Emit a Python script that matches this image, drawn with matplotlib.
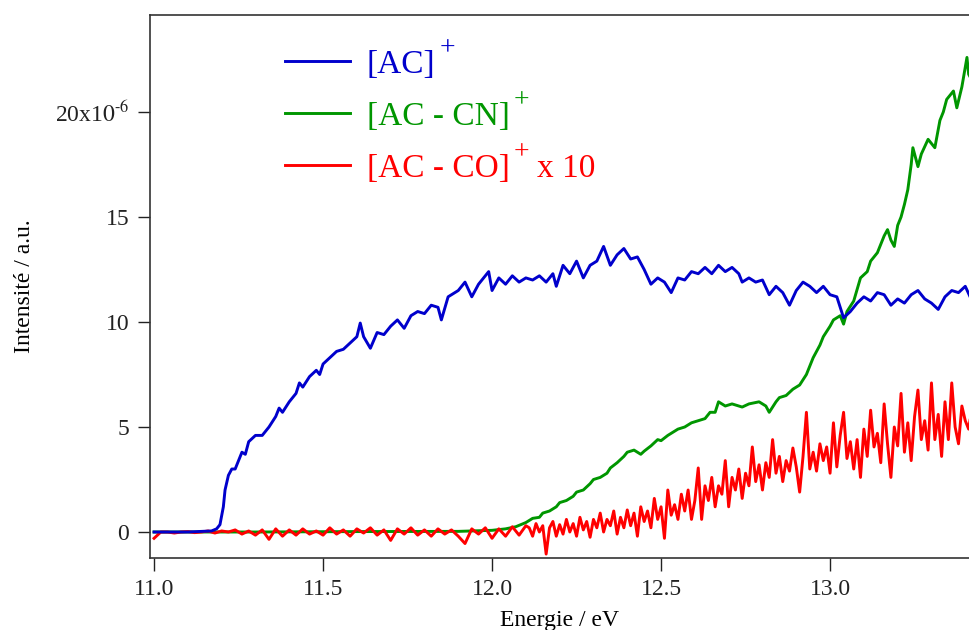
import matplotlib
matplotlib.use('Agg')
import matplotlib.pyplot as plt

plt.rcParams['font.family'] = ['Liberation Serif', 'DejaVu Serif']
plt.rcParams['mathtext.fontset'] = 'stix'

# [AC]+  (energie eV, intensite x1e-6)
ac_x = [11.00, 11.10, 11.17, 11.185, 11.195, 11.205, 11.21, 11.22, 11.23, 11.24,
        11.25, 11.26, 11.27, 11.28, 11.30, 11.32, 11.34, 11.36, 11.37, 11.38,
        11.40, 11.42, 11.43, 11.44, 11.46, 11.48, 11.49, 11.50, 11.52, 11.54,
        11.56, 11.58, 11.60, 11.61, 11.62, 11.64, 11.66, 11.68, 11.70, 11.72,
        11.74, 11.76, 11.78, 11.80, 11.82, 11.84, 11.85, 11.87, 11.90, 11.92,
        11.94, 11.96, 11.99, 12.00, 12.02, 12.04, 12.06, 12.08, 12.10, 12.12,
        12.14, 12.16, 12.18, 12.19, 12.21, 12.23, 12.25, 12.27, 12.29, 12.31,
        12.33, 12.35, 12.37, 12.39, 12.41, 12.43, 12.45, 12.47, 12.49, 12.51,
        12.53, 12.55, 12.57, 12.59, 12.61, 12.63, 12.65, 12.67, 12.69, 12.71,
        12.73, 12.74, 12.76, 12.78, 12.80, 12.82, 12.84, 12.86, 12.88, 12.90,
        12.92, 12.94, 12.96, 12.98, 13.00, 13.02, 13.04, 13.06, 13.08, 13.10,
        13.12, 13.14, 13.16, 13.18, 13.20, 13.22, 13.24, 13.26, 13.28, 13.30,
        13.32, 13.34, 13.36, 13.38, 13.40, 13.42]
ac_y = [0.0, 0.0, 0.05, 0.15, 0.35, 1.2, 2.0, 2.7, 3.0, 3.0,
        3.4, 3.8, 3.7, 4.3, 4.6, 4.6, 5.0, 5.5, 5.9, 5.7,
        6.2, 6.6, 7.1, 6.9, 7.4, 7.7, 7.5, 8.0, 8.3, 8.6,
        8.7, 9.0, 9.3, 9.95, 9.3, 8.75, 9.5, 9.4, 9.8, 10.1,
        9.7, 10.3, 10.5, 10.4, 10.8, 10.7, 10.1, 11.2, 11.5, 11.9,
        11.2, 11.8, 12.4, 11.5, 12.1, 11.8, 12.2, 11.9, 12.1, 12.0,
        12.2, 11.9, 12.3, 11.7, 12.7, 12.3, 12.9, 12.1, 12.7, 12.9,
        13.6, 12.7, 13.2, 13.5, 13.0, 13.1, 12.5, 11.8, 12.1, 11.9,
        11.4, 12.1, 12.0, 12.4, 12.3, 12.6, 12.3, 12.7, 12.4, 12.6,
        12.3, 11.9, 12.1, 11.9, 12.0, 11.3, 11.7, 11.4, 10.8, 11.5,
        11.9, 11.7, 11.4, 11.7, 11.3, 11.2, 10.2, 10.5, 10.9, 11.2,
        11.0, 11.4, 11.3, 10.8, 11.1, 10.9, 11.3, 11.5, 11.1, 10.9,
        10.6, 11.2, 11.5, 11.4, 11.7, 11.0]

# [AC - CN]+
cn_x = [11.00, 11.30, 11.60, 11.90, 12.00, 12.04, 12.07, 12.10, 12.12, 12.14,
        12.15, 12.17, 12.19, 12.20, 12.22, 12.24, 12.25, 12.27, 12.29, 12.30,
        12.32, 12.34, 12.35, 12.37, 12.39, 12.40, 12.42, 12.44, 12.45, 12.47,
        12.49, 12.50, 12.52, 12.54, 12.55, 12.57, 12.59, 12.61, 12.63, 12.645,
        12.66, 12.67, 12.69, 12.71, 12.74, 12.76, 12.79, 12.81, 12.82, 12.84,
        12.85, 12.87, 12.89, 12.91, 12.93, 12.95, 12.97, 12.98, 13.00, 13.01,
        13.03, 13.04, 13.05, 13.07, 13.09, 13.11, 13.12, 13.14, 13.16, 13.17,
        13.18, 13.19, 13.20, 13.21, 13.22, 13.23, 13.24, 13.245, 13.26, 13.27,
        13.29, 13.30, 13.31, 13.325, 13.335, 13.345, 13.355, 13.365, 13.375, 13.39,
        13.405, 13.41, 13.42]
cn_y = [0.0, 0.0, 0.02, 0.03, 0.08, 0.15, 0.25, 0.45, 0.65, 0.7,
        0.9, 1.0, 1.2, 1.4, 1.5, 1.7, 1.9, 2.0, 2.3, 2.5,
        2.6, 2.8, 3.05, 3.3, 3.6, 3.8, 3.9, 3.7, 3.85, 4.1,
        4.4, 4.35, 4.6, 4.8, 4.9, 5.0, 5.2, 5.3, 5.4, 5.7,
        5.7, 6.2, 6.0, 6.1, 5.95, 6.1, 6.2, 6.0, 5.7, 6.2,
        6.4, 6.5, 6.8, 7.0, 7.5, 8.3, 8.9, 9.3, 9.8, 10.1,
        10.3, 9.9, 10.5, 11.0, 12.1, 12.4, 12.9, 13.3, 14.1, 14.4,
        13.9, 13.6, 14.6, 15.0, 15.6, 16.3, 17.5, 18.3, 17.4, 18.0,
        18.7, 18.5, 18.3, 19.6, 20.0, 20.6, 20.8, 21.0, 20.2, 21.2,
        22.6, 21.8, 21.5]

# [AC - CO]+ x 10
co_x = [11.00, 11.02, 11.04, 11.06, 11.08, 11.10, 11.12, 11.14, 11.16, 11.18,
        11.20, 11.22, 11.24, 11.26, 11.28, 11.30, 11.32, 11.34, 11.36, 11.38,
        11.40, 11.42, 11.44, 11.46, 11.48, 11.50, 11.52, 11.54, 11.56, 11.58,
        11.60, 11.62, 11.64, 11.66, 11.68, 11.70, 11.72, 11.74, 11.76, 11.78,
        11.80, 11.82, 11.84, 11.86, 11.88, 11.90, 11.92, 11.94, 11.96, 11.98,
        12.00, 12.02, 12.04, 12.06, 12.08, 12.10,
        12.11, 12.12, 12.13, 12.14, 12.15, 12.16, 12.17, 12.18, 12.19, 12.20,
        12.21, 12.22, 12.23, 12.24, 12.25, 12.26, 12.27, 12.28, 12.29, 12.30,
        12.31, 12.32, 12.33, 12.34, 12.35, 12.36, 12.37, 12.38, 12.39, 12.40,
        12.41, 12.42, 12.43, 12.44, 12.45, 12.46, 12.47, 12.48, 12.49, 12.50,
        12.51, 12.52, 12.53, 12.54, 12.55, 12.56, 12.57, 12.58, 12.59, 12.60,
        12.61, 12.62, 12.63, 12.64, 12.65, 12.66, 12.67, 12.68, 12.69, 12.70,
        12.71, 12.72, 12.73, 12.74, 12.75, 12.76, 12.77, 12.78, 12.79, 12.80,
        12.81, 12.82, 12.83, 12.84, 12.85, 12.86, 12.87, 12.88, 12.89, 12.90,
        12.91, 12.92, 12.93, 12.94, 12.95, 12.96, 12.97, 12.98, 12.99, 13.00,
        13.01, 13.02, 13.03, 13.04, 13.05, 13.06, 13.07, 13.08, 13.09, 13.10,
        13.11, 13.12, 13.13, 13.14, 13.15, 13.16, 13.17, 13.18, 13.19, 13.20,
        13.21, 13.22, 13.23, 13.24, 13.25, 13.26, 13.27, 13.28, 13.29, 13.30,
        13.31, 13.32, 13.33, 13.34, 13.35, 13.36, 13.37, 13.38, 13.39, 13.40,
        13.41, 13.42]
co_y = [-0.3, 0.0, 0.0, -0.05, 0.0, 0.02, -0.03, 0.0, 0.05, -0.05,
        0.05, 0.0, 0.1, -0.1, 0.05, -0.15, 0.1, -0.35, 0.15, -0.2,
        0.1, -0.15, 0.15, -0.1, 0.05, -0.15, 0.2, -0.1, 0.1, -0.2,
        0.15, -0.05, 0.2, -0.15, 0.1, -0.4, 0.15, -0.1, 0.2, -0.15,
        0.1, -0.2, 0.15, -0.1, 0.1, -0.2, -0.55, 0.15, -0.1, 0.2,
        -0.3, 0.15, -0.2, 0.25, -0.15, 0.3,
        0.2, -0.2, 0.4, 0.0, 0.3, -1.05, 0.2, 0.5, -0.2, 0.35,
        -0.1, 0.6, 0.0, 0.4, -0.2, 0.7, 0.1, 0.5, -0.25, 0.6,
        0.2, 0.9, 0.0, 0.6, 0.3, 1.0, -0.1, 0.7, 0.2, 1.05,
        0.3, 0.9, -0.2, 1.2, 0.5, 1.0, 0.2, 1.6, 0.6, 1.2,
        -0.3, 2.0, 0.8, 1.3, 0.6, 1.8, 1.0, 2.0, 0.6, 1.5,
        3.05, 0.6, 2.2, 1.5, 2.6, 1.2, 2.2, 1.8, 3.4, 1.2,
        2.6, 2.0, 3.0, 1.6, 2.8, 2.2, 4.05, 2.4, 3.2, 2.0,
        3.3, 2.6, 4.4, 2.8, 3.6, 2.4, 3.4, 2.9, 4.0, 3.1,
        1.9, 3.6, 5.7, 3.0, 3.8, 2.9, 4.2, 3.4, 4.05, 2.8,
        5.2, 3.1, 4.6, 5.7, 3.5, 4.3, 3.0, 4.4, 2.6, 4.9,
        3.6, 5.8, 4.05, 4.7, 3.3, 6.1, 4.2, 2.6, 5.0, 4.1,
        6.6, 3.8, 5.2, 3.4, 5.5, 6.76, 4.4, 5.3, 3.9, 7.1,
        4.4, 5.6, 3.6, 6.2, 4.4, 7.1, 5.0, 4.2, 6.0, 5.3,
        4.9, 5.95]

y_ticks = [0, 5, 10, 15, 20]
y_tick_labels = ['0', '5', '10', '15', r'20x1$0^{\text{-}6}$']
x_ticks = [11.0, 11.5, 12.0, 12.5, 13.0]

fig = plt.figure(figsize=(9.7, 6.3), dpi=100)
ax = fig.add_axes([150 / 970, 72 / 630, 820 / 970, 543 / 630])

ax.plot(ac_x, ac_y, color='#0000CC', lw=2.1, zorder=3, label='[AC]')
ax.plot(cn_x, cn_y, color='#009600', lw=2.1, zorder=1, label='[AC - CN]')
ax.plot(co_x, co_y, color='#FF0000', lw=2.1, zorder=2, label='[AC - CO]')

ax.set_xlim(10.988, 13.414)
ax.set_ylim(-1.238, 24.62)

ax.set_xticks(x_ticks)
ax.set_xticklabels(['%.1f' % v for v in x_ticks])
ax.set_yticks(y_ticks)
ax.set_yticklabels(y_tick_labels)
ax.tick_params(direction='out', length=9, width=1, labelsize=17, colors='#222222')
ax.tick_params(axis='x', pad=6)
ax.tick_params(axis='y', pad=6)

for s in ['left', 'bottom', 'top']:
    ax.spines[s].set_color('#333333')
    ax.spines[s].set_linewidth(1.2)
ax.spines['right'].set_visible(False)

ax.set_xlabel('Energie / eV', fontsize=17, labelpad=7)
ax.set_ylabel('Intensité / a.u.', fontsize=17, labelpad=14)

leg = ax.legend(loc='upper left', bbox_to_anchor=(135 / 820, 1 - 34 / 543), frameon=False,
                fontsize=24, handlelength=1.95, handletextpad=0.5, labelspacing=0.65,
                borderpad=0, borderaxespad=0, labelcolor='linecolor')

# superscript "+" (and "x 10") placed after each legend label
for txt in leg.get_texts():
    ax.annotate('+', xy=(1, 1), xycoords=txt, xytext=(3, 0), textcoords='offset points',
                ha='left', va='center', fontsize=20, color=txt.get_color(), zorder=6)
ax.annotate('x 10', xy=(1, 0), xycoords=leg.get_texts()[2], xytext=(19.5, 0),
            textcoords='offset points', ha='left', va='bottom', fontsize=24,
            color=leg.get_texts()[2].get_color(), zorder=6)

fig.savefig('out.png', dpi=100)
